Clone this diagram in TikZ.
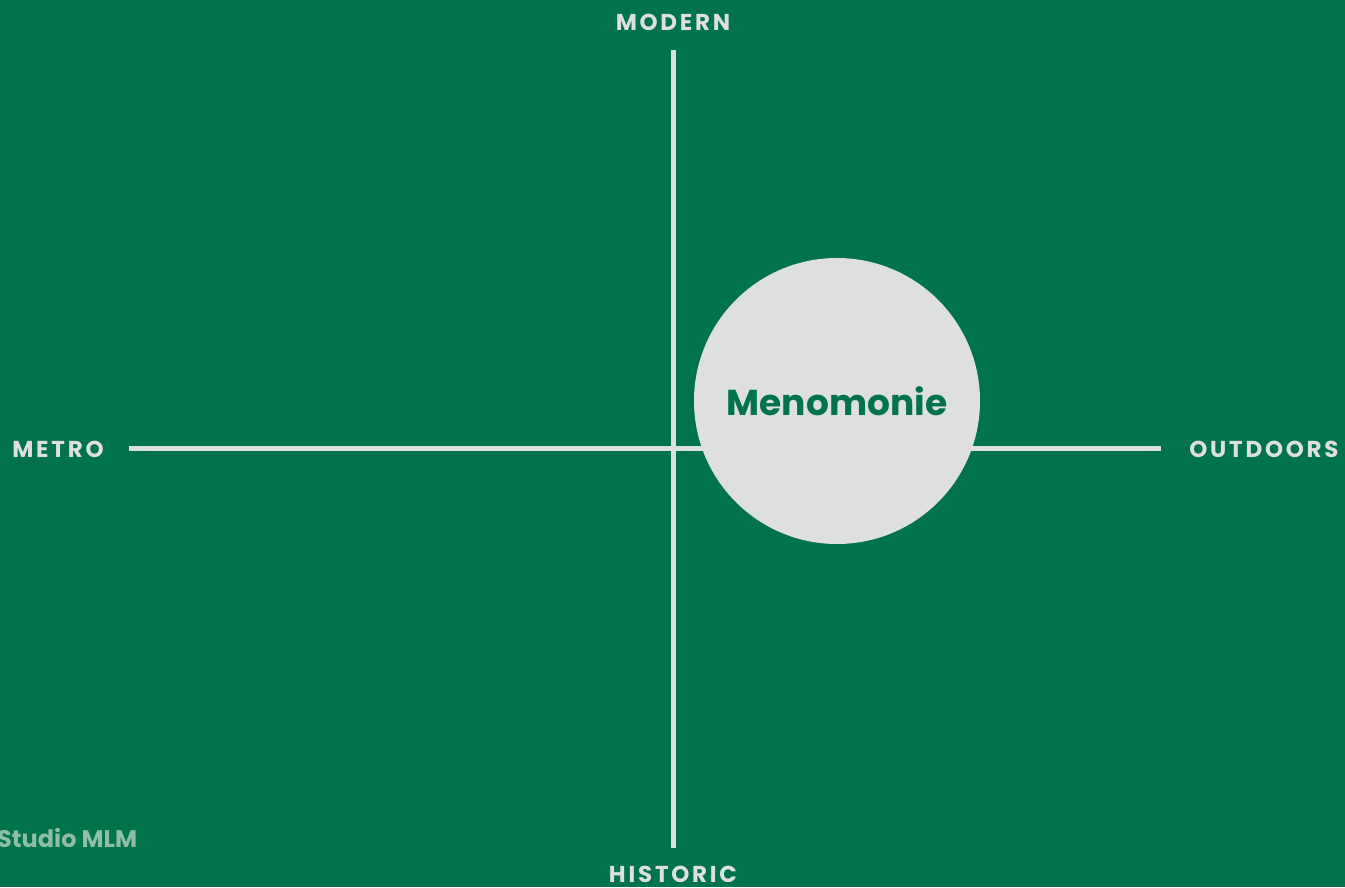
\documentclass[tikz,border=0pt]{standalone}
\usepackage{fontspec}
\setmainfont{Poppins}
\newfontfamily\labelfont[LetterSpace=12]{Poppins}
\definecolor{bggreen}{RGB}{0,115,74}
\definecolor{lightgray}{RGB}{222,223,224}
\definecolor{fadedtext}{RGB}{143,190,166}
\begin{document}
\begin{tikzpicture}[x=1pt,y=-1pt,
  axisline/.style={draw=lightgray,line width=4.5pt},
  axislabel/.style={text=lightgray,font=\labelfont\fontsize{23}{27}\selectfont\bfseries,inner sep=0pt},
  bubble/.style={circle,fill=lightgray,minimum size=286pt,inner sep=0pt,text=bggreen,font=\fontsize{36}{42}\selectfont\bfseries}]
\fill[bggreen] (0,0) rectangle (1345,887);
\useasboundingbox (0,0) rectangle (1345,887);
\coordinate (vtop) at (673.5,50);
\coordinate (vbot) at (673.5,848);
\coordinate (hleft) at (129,448.5);
\coordinate (hright) at (1161,448.5);
\draw[axisline] (vtop) -- (vbot);
\draw[axisline] (hleft) -- (hright);
\node[bubble] (men) at (837,401) {Menomonie};
\node[axislabel] (modern) at (673,22) {MODERN};
\node[axislabel] (historic) at (673,874) {HISTORIC};
\node[axislabel] (metro) at (58,449) {METRO};
\node[axislabel] (outdoors) at (1264,449) {OUTDOORS};
\node[text=fadedtext,font=\fontsize{24}{28}\selectfont\bfseries,inner sep=0pt,anchor=west] (studio) at (-3,838) {Studio MLM};
\end{tikzpicture}
\end{document}
